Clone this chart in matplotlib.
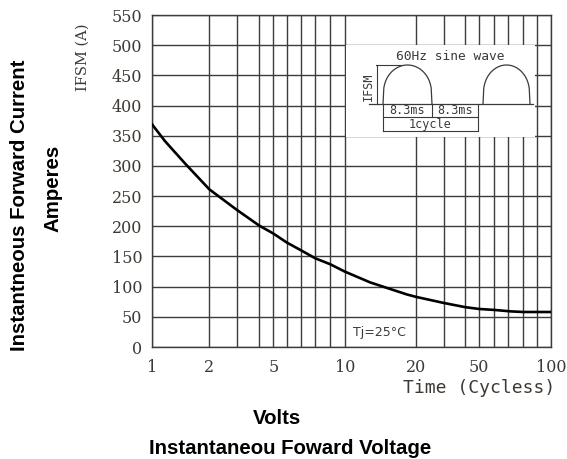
import matplotlib
matplotlib.use('Agg')
import matplotlib.pyplot as plt
import numpy as np

# Surge current curve
CYCLES = [1, 1.17, 1.5, 2, 3, 4, 5, 6, 7, 8, 9, 10, 12.8, 18.3, 20, 30, 40, 50, 60, 72, 80, 100]
IFSM = [369, 341, 303, 261, 227, 201, 188, 173, 160, 147, 137, 125, 107, 87, 83, 73, 66, 63, 61.5, 59, 58, 58]

Y_TICKS = list(range(0, 551, 50))
X_TICKS = [1, 2, 5, 10, 20, 50, 100]
X_GRID = [1, 2, 3, 4, 5, 6, 7, 8, 9, 10, 20, 30, 40, 50, 60, 70, 80, 90, 100]
# the printed grid is not a true log grid; where each grid line sits (0..1 across the axis)
X_GRID_POS = [0.0, 0.144, 0.213, 0.269, 0.304, 0.338, 0.374, 0.409, 0.447, 0.483,
              0.662, 0.731, 0.785, 0.820, 0.856, 0.891, 0.931, 0.965, 1.0]

GRID_C = '#3c3c3c'
TICK_C = '#3e3934'

lg = np.log10(X_GRID)


def fwd(x):
    x = np.clip(np.asarray(x, dtype=float), 1e-3, None)
    return np.interp(np.log10(x), lg, X_GRID_POS, left=-1, right=2)


def inv(p):
    return 10 ** np.interp(p, X_GRID_POS, lg)


fig = plt.figure(figsize=(5.67, 4.59), dpi=100)
ax = fig.add_axes([152 / 567, 1 - 347 / 459, 399 / 567, 332 / 459])
ax.set_xscale('function', functions=(fwd, inv))
ax.set_xlim(1, 100)
ax.set_ylim(0, 550)

ax.set_xticks(X_GRID, minor=True)
ax.set_xticks(X_TICKS)
ax.set_xticklabels([str(t) for t in X_TICKS])
ax.xaxis.set_minor_formatter(plt.NullFormatter())
ax.set_yticks(Y_TICKS)
ax.tick_params(axis='both', which='both', length=0, colors=TICK_C, labelsize=11.5)
ax.tick_params(axis='x', pad=9)
ax.tick_params(axis='y', pad=7)
for lbl in ax.get_xticklabels() + ax.get_yticklabels():
    lbl.set_family('DejaVu Serif')

ax.grid(True, which='both', axis='x', color=GRID_C, lw=1.0)
ax.grid(True, which='major', axis='y', color=GRID_C, lw=1.0)
for s in ax.spines.values():
    s.set_color(GRID_C)
    s.set_linewidth(1.0)

ax.plot(CYCLES, IFSM, color='black', lw=1.9, zorder=5)

ax.text(0.57, 0.045, 'Tj=25°C', transform=ax.transAxes, fontsize=9,
        color=TICK_C, ha='center', va='center')

# axis titles
fig.text(555 / 567, 1 - 388 / 459, 'Time (Cycless)', family='DejaVu Sans Mono',
         fontsize=13, color=TICK_C, ha='right', va='center')
fig.text(83 / 567, 1 - 57 / 459, 'IFSM (A)', family='DejaVu Serif', fontsize=10.5,
         color=TICK_C, rotation=90, ha='center', va='center')
fig.text(20 / 567, 1 - 205 / 459, 'Instantneous Forward Current', family='Liberation Sans',
         weight='bold', fontsize=14.7, rotation=90, ha='center', va='center')
fig.text(53 / 567, 1 - 188 / 459, 'Amperes', family='Liberation Sans',
         weight='bold', fontsize=14.7, rotation=90, ha='center', va='center')
fig.text(277 / 567, 1 - 419 / 459, 'Volts', family='Liberation Sans',
         weight='bold', fontsize=14.7, ha='center', va='center')
fig.text(290 / 567, 1 - 448 / 459, 'Instantaneou Foward Voltage', family='Liberation Sans',
         weight='bold', fontsize=14.7, ha='center', va='center')

# waveform sketch in the upper right (drawn in its own pixel-like frame)
ins = fig.add_axes([346 / 567, 1 - 137 / 459, 189 / 567, 92 / 459], facecolor='white')
ins.set_xlim(346, 535)
ins.set_ylim(137, 45)
ins.set_xticks([])
ins.set_yticks([])
for s in ins.spines.values():
    s.set_visible(False)

lc = '#3a3a3a'
t = np.linspace(0, 1, 60)
hump = np.sin(np.pi * t) ** 0.3
for x0, x1 in [(383, 432), (483, 530)]:
    ins.plot(x0 + (x1 - x0) * t, 104 - 39 * hump, color=lc, lw=0.9)
ins.plot([369, 533], [104, 104], color=lc, lw=0.9)
ins.plot([376.7, 376.7], [65, 104], color=lc, lw=0.8)
ins.plot([376, 401], [65, 65], color=lc, lw=0.8)
ins.plot([383, 383], [104, 131], color=lc, lw=0.8)
ins.plot([432, 432], [104, 117], color=lc, lw=0.8)
ins.plot([478, 478], [104, 131], color=lc, lw=0.8)
ins.plot([383, 478], [117, 117], color=lc, lw=0.8)
ins.plot([383, 478], [131, 131], color=lc, lw=0.8)
ins.text(450, 56, '60Hz sine wave', family='DejaVu Sans Mono', fontsize=9.3,
         color=lc, ha='center', va='center')
ins.text(368, 87, 'IFSM', family='DejaVu Sans Mono', fontsize=8.5,
         color=lc, rotation=90, ha='center', va='center')
ins.text(407, 111, '8.3ms', family='DejaVu Sans Mono', fontsize=8.5,
         color=lc, ha='center', va='center')
ins.text(455, 111, '8.3ms', family='DejaVu Sans Mono', fontsize=8.5,
         color=lc, ha='center', va='center')
ins.text(430, 124.5, '1cycle', family='DejaVu Sans Mono', fontsize=8.5,
         color=lc, ha='center', va='center')

fig.savefig('out.png', dpi=100)
